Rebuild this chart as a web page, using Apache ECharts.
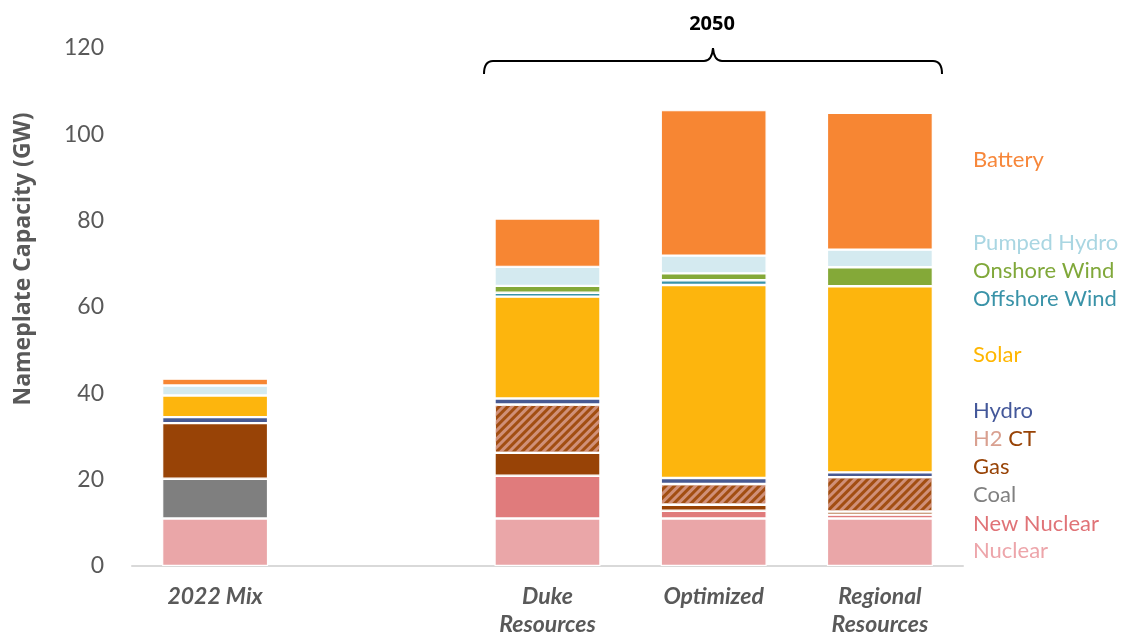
<!DOCTYPE html>
<html>
<head>
<meta charset="utf-8">
<script src="https://cdn.jsdelivr.net/npm/echarts@6/dist/echarts.min.js"></script>
<style>
  html, body { margin: 0; padding: 0; background: #fff; }
  #chart { width: 1125px; height: 639px; }
</style>
</head>
<body>
<div id="chart"></div>
<script>
const categories = ["2022 Mix", "", "Duke\nResources", "Optimized", "Regional\nResources"];
const yTicks = [0, 20, 40, 60, 80, 100, 120];

// values in GW, bottom of stack first; "-" is the empty spacer slot
const nuclear = [11, "-", 11, 11, 11];
const newNuclear = [0, "-", 9.9, 1.8, 0.9];
const coal = [9.2, "-", 0, 0, 0];
const gas = [12.9, "-", 5.3, 1.4, 0.7];
const h2ct = [0, "-", 11.2, 4.8, 8.0];
const hydro = [1.4, "-", 1.4, 1.4, 1.1];
const solar = [5.0, "-", 23.6, 44.7, 43.1];
const offshoreWind = [0, "-", 0.9, 1.1, 0];
const onshoreWind = [0, "-", 1.6, 1.6, 4.4];
const pumpedHydro = [2.3, "-", 4.4, 4.1, 4.1];
const battery = [1.6, "-", 11.2, 33.7, 31.7];

const seriesDefs = [
  { name: "Nuclear", data: nuclear, color: "#EAA6A8", text: "#EDA5AA" },
  { name: "New Nuclear", data: newNuclear, color: "#E07B7C", text: "#E07377" },
  { name: "Coal", data: coal, color: "#7F7F7F", text: "#808080" },
  { name: "Gas", data: gas, color: "#984306", text: "#984306" },
  { name: "H2 CT", data: h2ct, color: "#A24E12", text: "#984306" },
  { name: "Hydro", data: hydro, color: "#485A92", text: "#44589A" },
  { name: "Solar", data: solar, color: "#FDB50D", text: "#FFB600" },
  { name: "Offshore Wind", data: offshoreWind, color: "#3A93A8", text: "#3A93A8" },
  { name: "Onshore Wind", data: onshoreWind, color: "#84A938", text: "#80A83A" },
  { name: "Pumped Hydro", data: pumpedHydro, color: "#D4EAF0", text: "#A9D6E2" },
  { name: "Battery", data: battery, color: "#F78633", text: "#F7873A" },
];

// legend text rows on the right (y centre of each label)
const legendRows = {
  "Battery": 160, "Pumped Hydro": 243, "Onshore Wind": 271, "Offshore Wind": 299,
  "Solar": 355, "Hydro": 411, "H2 CT": 439, "Gas": 467, "Coal": 495,
  "New Nuclear": 524, "Nuclear": 551,
};

const FONT = "Lato";
const GREY = "#595959";

const chart = echarts.init(document.getElementById("chart"));

function buildSeries() {
  return seriesDefs.map((d) => {
    const itemStyle = { color: d.color, borderColor: "#fff", borderWidth: 1.2 };
    if (d.name === "H2 CT") {
      itemStyle.decal = {
        symbol: "rect",
        symbolSize: 1,
        color: "#D09078",
        dashArrayX: [1, 0],
        dashArrayY: [3, 3],
        rotation: -Math.PI / 4,
      };
    }
    return {
      name: d.name,
      type: "bar",
      stack: "total",
      barWidth: 106,
      data: d.data,
      itemStyle: itemStyle,
      emphasis: { disabled: true },
    };
  });
}

function buildLegendText() {
  return seriesDefs.map((d) => {
    const style = {
      x: 973,
      y: legendRows[d.name],
      fontFamily: FONT,
      fontSize: 22,
      fill: d.text,
      verticalAlign: "middle",
    };
    if (d.name === "H2 CT") {
      style.text = "{a|H2} {b|CT}";
      style.rich = {
        a: { fill: "#D9A090", fontFamily: FONT, fontSize: 22 },
        b: { fill: "#984306", fontFamily: FONT, fontSize: 22 },
      };
    } else {
      style.text = d.name;
    }
    return { type: "text", style: style, silent: true };
  });
}

// curly brace over the 2050 bars
function buildBrace() {
  const line = { stroke: "#000", lineWidth: 2, fill: null };
  const parts = [
    { type: "bezierCurve", shape: { x1: 484, y1: 74, cpx1: 484, cpy1: 61, x2: 493, y2: 61 } },
    { type: "line", shape: { x1: 493, y1: 61, x2: 704, y2: 61 } },
    { type: "bezierCurve", shape: { x1: 704, y1: 61, cpx1: 712, cpy1: 61, x2: 713, y2: 48 } },
    { type: "bezierCurve", shape: { x1: 713, y1: 48, cpx1: 714, cpy1: 61, x2: 722, y2: 61 } },
    { type: "line", shape: { x1: 722, y1: 61, x2: 933, y2: 61 } },
    { type: "bezierCurve", shape: { x1: 933, y1: 61, cpx1: 942, cpy1: 61, x2: 942, y2: 74 } },
  ];
  return parts.map((p) => Object.assign(p, { silent: true, style: line }));
}

chart.setOption({
  animation: false,
  grid: { left: 132, right: 162, top: 48, bottom: 68.5 },
  xAxis: {
    type: "category",
    data: categories,
    axisTick: { show: false },
    axisLine: { lineStyle: { color: "#D9D9D9", width: 2 } },
    axisLabel: {
      color: GREY,
      fontFamily: FONT,
      fontSize: 23,
      fontWeight: "bold",
      fontStyle: "italic",
      lineHeight: 28,
      margin: 17,
      interval: 0,
    },
  },
  yAxis: {
    type: "value",
    min: yTicks[0],
    max: yTicks[yTicks.length - 1],
    interval: 20,
    axisLine: { show: false },
    axisTick: { show: false },
    splitLine: { show: false },
    axisLabel: { color: GREY, fontFamily: FONT, fontSize: 23, margin: 28 },
  },
  series: buildSeries(),
  graphic: buildLegendText().concat(buildBrace(), [
    {
      type: "text",
      silent: true,
      x: 23,
      y: 259,
      rotation: Math.PI / 2,
      style: {
        x: 0, y: 0, text: "Nameplate Capacity (GW)", fill: GREY,
        fontFamily: "Open Sans", fontSize: 23, fontWeight: "bold",
        align: "center", verticalAlign: "middle",
      },
    },
    {
      type: "text",
      silent: true,
      style: {
        x: 712, y: 24, text: "2050", fill: "#000",
        fontFamily: "Open Sans", fontSize: 20, fontWeight: "bold",
        align: "center", verticalAlign: "middle",
      },
    },
  ]),
});
</script>
</body>
</html>
